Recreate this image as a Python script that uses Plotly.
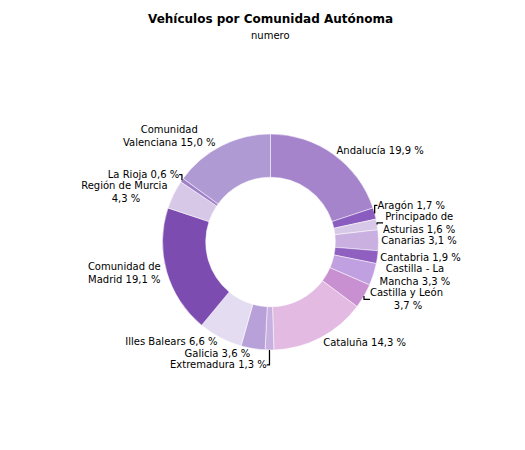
import plotly.graph_objects as go

labels = ["Andalucía", "Aragón", "Principado de<br>Asturias", "Canarias", "Cantabria",
          "Castilla - La<br>Mancha", "Castilla y León<br>", "Cataluña", "Extremadura", "Galicia",
          "Illes Balears", "Comunidad de<br>Madrid", "Región de Murcia<br>", "La Rioja",
          "Comunidad<br>Valenciana"]
values = [19.9, 1.7, 1.6, 3.1, 1.9, 3.3, 3.7, 14.3, 1.3, 3.6, 6.6, 19.1, 4.3, 0.6, 15.0]
colors = ["#a584cc", "#8a5cbf", "#d8c8e8", "#c9b0e0", "#9060c0", "#c0a0e0", "#c890d0",
          "#e2bae2", "#c8b0e0", "#b8a0d8", "#e4dcf0", "#7d4cb0", "#d8c8e8", "#a080c8", "#b09ad4"]

fig = go.Figure(go.Pie(
    labels=labels, values=values, sort=False, direction="clockwise", rotation=0,
    hole=0.6, marker=dict(colors=colors, line=dict(color="#ffffff", width=0.5)),
    textposition="outside", texttemplate="%{label} %{value:.1f} %",
    textfont=dict(family="DejaVu Sans", size=10, color="#000"),
    domain=dict(x=[0.29, 0.71], y=[0.24, 0.72]), showlegend=False))
fig.update_layout(
    width=525, height=450, paper_bgcolor="white", separators=",.",
    margin=dict(l=0, r=0, t=0, b=0),
    annotations=[
        dict(text="<b>Vehículos por Comunidad Autónoma</b>", x=0.5, y=1, yshift=-2,
             xref="paper", yref="paper", xanchor="center", yanchor="top", showarrow=False,
             font=dict(family="DejaVu Sans", size=12, color="#000")),
        dict(text="numero", x=0.5, y=1, yshift=-20,
             xref="paper", yref="paper", xanchor="center", yanchor="top", showarrow=False,
             font=dict(family="DejaVu Sans", size=10, color="#000")),
    ])
fig.write_html("out.html")
